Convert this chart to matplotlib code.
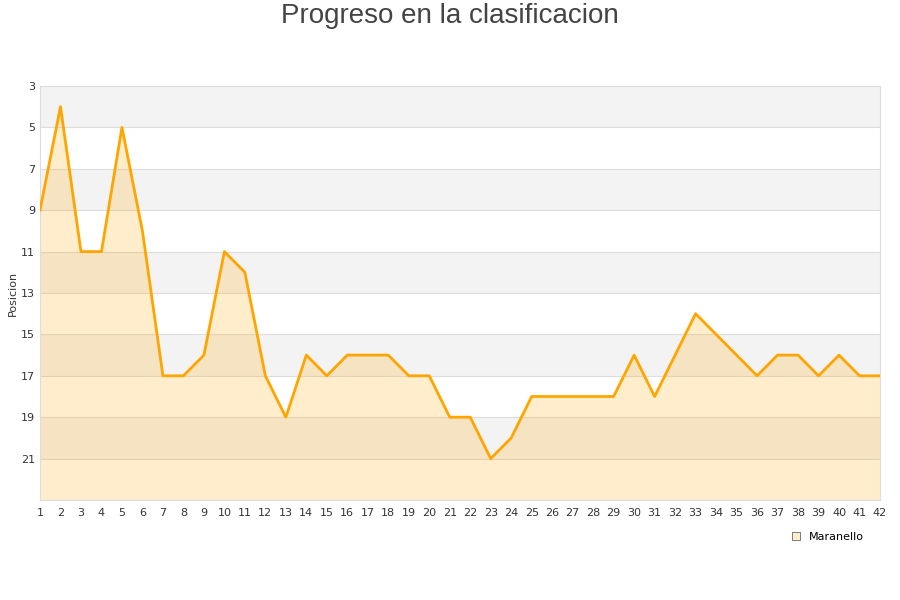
import matplotlib
matplotlib.use("Agg")
from matplotlib import pyplot as plt

jornadas = list(range(1, 43))
posiciones = [9, 4, 11, 11, 5, 10, 17, 17, 16, 11,
              12, 17, 19, 16, 17, 16, 16, 16, 17, 17,
              19, 19, 21, 20, 18, 18, 18, 18, 18, 16,
              18, 16, 14, 15, 16, 17, 16, 16, 17, 16,
              17, 17]
y_ticks = list(range(3, 22, 2))
serie = "Maranello"

fig = plt.figure(figsize=(9, 6), dpi=100)
ax = fig.add_axes([40 / 900, 1 - 500 / 600, 840 / 900, 414 / 600])

# bandas alternas de fondo
for y0 in range(3, 23, 4):
    ax.axhspan(y0, y0 + 2, color="#f3f3f3", zorder=0, lw=0)
for yt in y_ticks[1:]:
    ax.axhline(yt, color="#dddddd", lw=0.8, zorder=1)

ax.fill_between(jornadas, posiciones, 23, color="orange", alpha=0.2, lw=0, zorder=2)
ax.plot(jornadas, posiciones, color="orange", lw=2, zorder=3)

ax.set_xlim(1, 42)
ax.set_ylim(23, 3)
ax.set_xticks(jornadas)
ax.set_yticks(y_ticks)
ax.tick_params(axis="both", length=0, labelsize=8, colors="#333333")
ax.tick_params(axis="x", pad=6)
for sp in ax.spines.values():
    sp.set_color("#dddddd")

ax.set_ylabel("Posicion", fontsize=8, color="#333333", labelpad=2)
fig.suptitle("Progreso en la clasificacion", fontsize=20, color="#444444",
             family="Liberation Sans", y=0.995)

# leyenda
fig.legend(handles=[plt.Rectangle((0, 0), 1, 1, fc="#ffedcc", ec="#666666", lw=0.6)],
           labels=[serie], loc="center", bbox_to_anchor=(828 / 900, 1 - 537 / 600),
           frameon=False, fontsize=8, handlelength=0.7, handleheight=0.7)

fig.savefig("out.png", dpi=100)
